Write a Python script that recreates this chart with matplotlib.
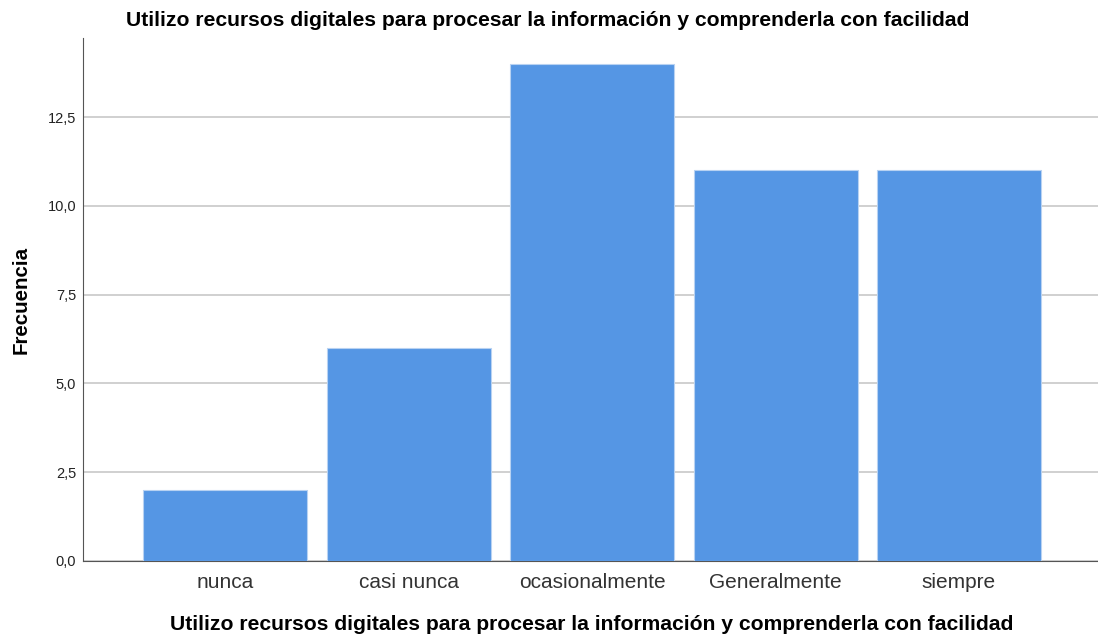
import matplotlib.pyplot as plt
import numpy as np

categories = ['nunca', 'casi nunca', 'ocasionalmente', 'Generalmente', 'siempre']
counts = [2, 6, 14, 11, 11]
yticks = [0, 2.5, 5, 7.5, 10, 12.5]
title = 'Utilizo recursos digitales para procesar la información y comprenderla con facilidad'

plt.rcParams['font.family'] = ['Liberation Sans', 'DejaVu Sans']

fig = plt.figure(figsize=(10.98, 6.37), dpi=100)
ax = fig.add_axes([83 / 1098, 76 / 637, 1 - 83 / 1098, 523 / 637])

x = np.arange(len(categories))
ax.bar(x, counts, width=0.894, color='#5596E4', edgecolor='#B8D2F2', linewidth=0.8, zorder=3)

ax.set_xlim(-0.776, 4.758)
ax.set_ylim(0, 14.73)
ax.set_yticks(yticks)
ax.set_yticklabels([f'{v:.1f}'.replace('.', ',') for v in yticks], fontsize=10.5, color='#222222')
ax.set_xticks(x)
ax.set_xticklabels(categories, fontsize=15, color='#333333')
ax.tick_params(axis='x', length=0, pad=9)
ax.tick_params(axis='y', length=0, pad=5)
ax.yaxis.grid(True, color='#C8C8C8', linewidth=1.2, zorder=0)

for side in ['top', 'right']:
    ax.spines[side].set_visible(False)
ax.spines['left'].set_color('#555555')
ax.spines['bottom'].set_color('#555555')

ax.set_ylabel('Frecuencia', fontsize=14.8, fontweight='bold', labelpad=12)
fig.text(548 / 1098, 1 - 20 / 637, title, ha='center', va='center', fontsize=15.2, fontweight='bold')
fig.text(592 / 1098, 1 - 624 / 637, title, ha='center', va='center', fontsize=15.2, fontweight='bold')

fig.savefig('out.png', dpi=100)
